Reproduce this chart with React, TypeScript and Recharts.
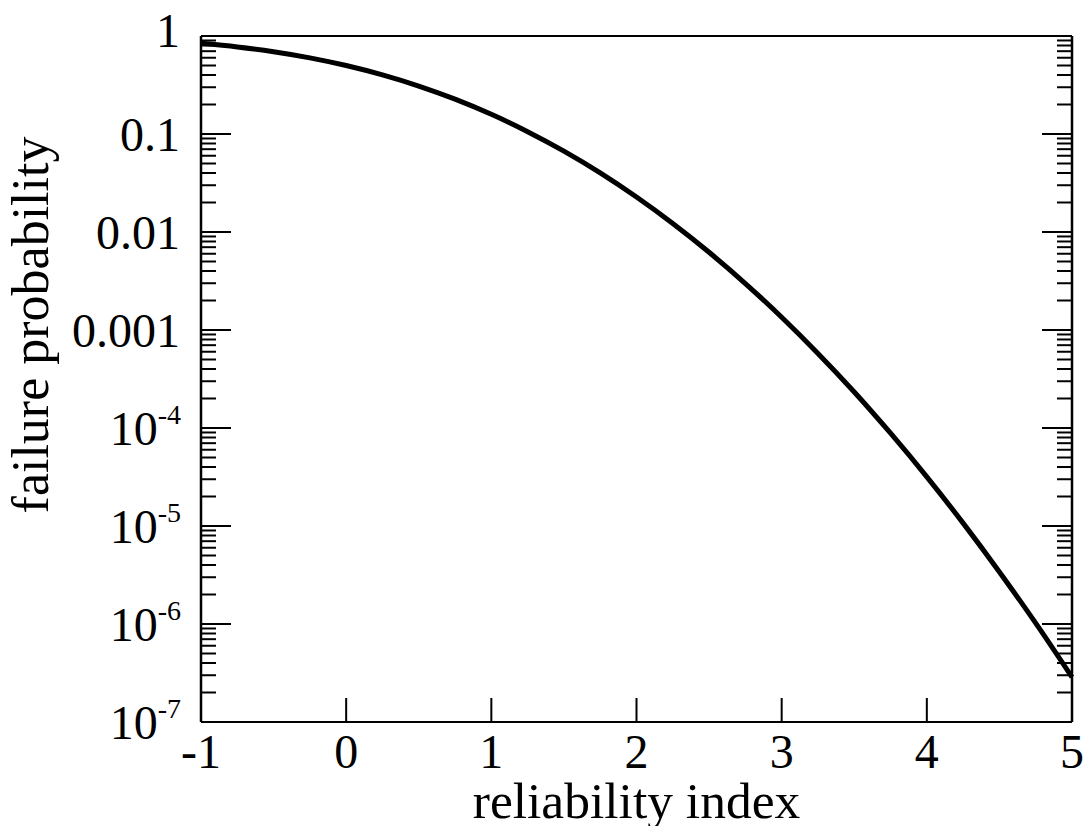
import { LineChart, Line, XAxis, YAxis, Label } from "recharts";

document.body.style.margin = "0";

// reliability index (beta) and failure probability
const beta = [
  -1, -0.75, -0.5, -0.25, 0, 0.25, 0.5, 0.75, 1, 1.25, 1.5, 1.75, 2, 2.25, 2.5,
  2.75, 3, 3.25, 3.5, 3.75, 4, 4.25, 4.5, 4.75, 5,
];
const pf = [
  0.8413, 0.7734, 0.6915, 0.5987, 0.5, 0.4013, 0.3085, 0.2266, 0.1587, 0.1056,
  0.0668, 0.0401, 0.02275, 0.01222, 0.00621, 0.00298, 0.00135, 5.77e-4, 2.33e-4,
  8.84e-5, 3.17e-5, 1.07e-5, 3.4e-6, 1.02e-6, 2.87e-7,
];

const xTicks = [-1, 0, 1, 2, 3, 4, 5];
const decades = [1, 0.1, 0.01, 0.001, 1e-4, 1e-5, 1e-6, 1e-7];
const decadeLabels = ["1", "0.1", "0.01", "0.001", "10^-4", "10^-5", "10^-6", "10^-7"];
const minorSteps = [2, 3, 4, 5, 6, 7, 8, 9];

const data = beta.map((b, i) => ({ beta: b, pf: pf[i] }));

const yTicks: number[] = [];
decades.forEach((d) => {
  yTicks.push(d);
  if (d < 1) minorSteps.forEach((m) => yTicks.push(d * m));
});

const font = "'Liberation Serif', 'Times New Roman', serif";
const W = 1087;
const H = 826;

const LeftTick = (props: any) => {
  const { x, y, payload } = props;
  const i = decades.indexOf(payload.value);
  const major = i >= 0;
  let label = null;
  if (major) {
    const txt = decadeLabels[i];
    const base = y + (i === 0 ? 11 : 17);
    if (txt.includes("^")) {
      const [b, e] = txt.split("^");
      label = (
        <text x={x - 20} y={base} textAnchor="end" fontFamily={font} fontSize={48} fill="#000">
          {b}
          <tspan fontSize={28} dy={-21}>
            {e}
          </tspan>
        </text>
      );
    } else {
      label = (
        <text x={x - 21} y={base} textAnchor="end" fontFamily={font} fontSize={48} fill="#000">
          {txt}
        </text>
      );
    }
  }
  return (
    <g>
      <line x1={x} x2={x + (major ? 30 : 15)} y1={y} y2={y} stroke="#000" strokeWidth={2} />
      {label}
    </g>
  );
};

const RightTick = (props: any) => {
  const { x, y, payload } = props;
  const major = decades.indexOf(payload.value) >= 0;
  return <line x1={x} x2={x - (major ? 30 : 15)} y1={y} y2={y} stroke="#000" strokeWidth={2} />;
};

const BottomTick = (props: any) => {
  const { x, y, payload } = props;
  return (
    <g>
      <line x1={x} x2={x} y1={y} y2={y - 24} stroke="#000" strokeWidth={2} />
      <text x={x} y={y + 46} textAnchor="middle" fontFamily={font} fontSize={48} fill="#000">
        {payload.value}
      </text>
    </g>
  );
};

export default function App() {
  return (
    <div style={{ width: W, height: H, background: "#fff" }}>
      <LineChart width={W} height={H} data={data} margin={{ top: 0, right: 0, bottom: 0, left: 0 }}>
        <XAxis
          xAxisId="top"
          orientation="top"
          dataKey="beta"
          type="number"
          domain={[-1, 5]}
          height={36}
          tick={false}
          tickLine={false}
          axisLine={{ stroke: "#000", strokeWidth: 2 }}
        />
        <XAxis
          dataKey="beta"
          type="number"
          domain={[-1, 5]}
          ticks={xTicks}
          interval={0}
          height={104}
          tickSize={0}
          tickMargin={0}
          tick={<BottomTick />}
          axisLine={{ stroke: "#000", strokeWidth: 2 }}
        >
          <Label
            content={(p: any) => (
              <text
                x={p.viewBox.x + p.viewBox.width / 2}
                y={p.viewBox.y + 96}
                textAnchor="middle"
                fontFamily={font}
                fontSize={51.5}
                fill="#000"
              >
                reliability index
              </text>
            )}
          />
        </XAxis>
        <YAxis
          type="number"
          scale="log"
          domain={[1e-7, 1]}
          allowDataOverflow
          ticks={yTicks}
          interval={0}
          width={201}
          tickSize={0}
          tickMargin={0}
          tick={<LeftTick />}
          axisLine={{ stroke: "#000", strokeWidth: 2.5 }}
        >
          <Label
            content={() => (
              <text
                x={48}
                y={325}
                transform="rotate(-90 48 325)"
                textAnchor="middle"
                fontFamily={font}
                fontSize={52}
                fill="#000"
              >
                failure probability
              </text>
            )}
          />
        </YAxis>
        <YAxis
          yAxisId="right"
          orientation="right"
          type="number"
          scale="log"
          domain={[1e-7, 1]}
          allowDataOverflow
          ticks={yTicks}
          interval={0}
          width={15}
          tickSize={0}
          tickMargin={0}
          tick={<RightTick />}
          axisLine={{ stroke: "#000", strokeWidth: 2.5 }}
        />
        <Line
          dataKey="pf"
          type="monotone"
          stroke="#000"
          strokeWidth={5}
          dot={false}
          isAnimationActive={false}
        />
      </LineChart>
    </div>
  );
}
